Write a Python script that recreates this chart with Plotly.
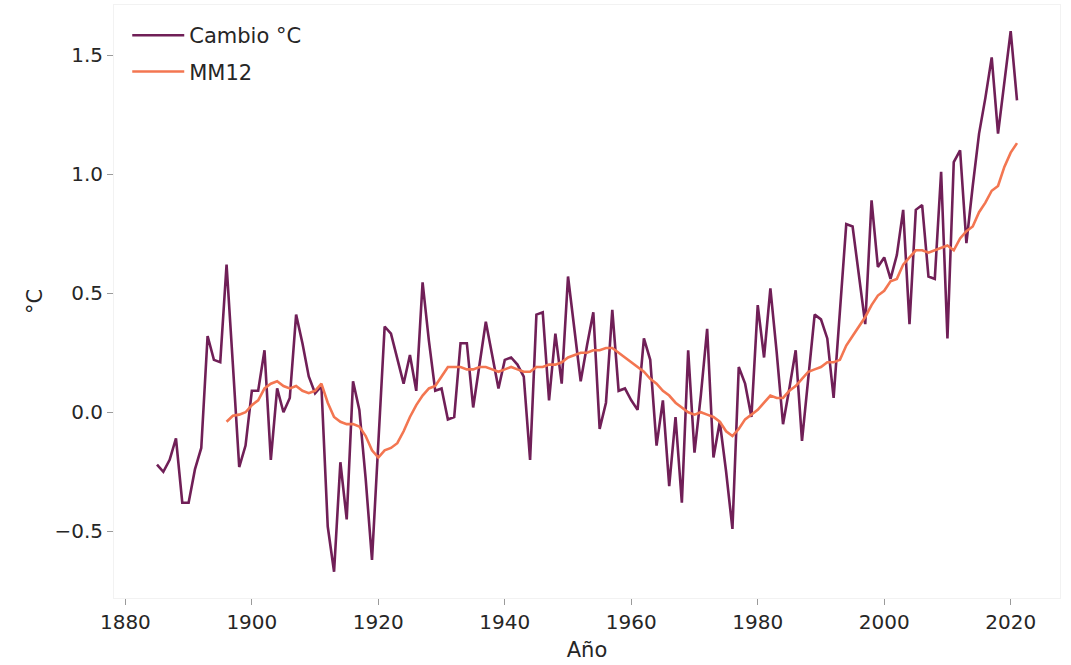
import plotly.graph_objects as go

# Datos anuales (lectura aproximada del gráfico)
anios = list(range(1885, 2022))
cambio = [
    -0.22, -0.25, -0.20, -0.11, -0.38, -0.38, -0.24, -0.15, 0.32, 0.22,   # 1885-1894
    0.21, 0.62, 0.20, -0.23, -0.14, 0.09, 0.09, 0.26, -0.20, 0.10,        # 1895-1904
    0.00, 0.06, 0.41, 0.29, 0.15, 0.08, 0.11, -0.48, -0.67, -0.21,        # 1905-1914
    -0.45, 0.13, 0.01, -0.28, -0.62, -0.15, 0.36, 0.33, 0.22, 0.12,       # 1915-1924
    0.24, 0.09, 0.545, 0.30, 0.09, 0.10, -0.03, -0.02, 0.29, 0.29,        # 1925-1934
    0.02, 0.20, 0.38, 0.24, 0.10, 0.22, 0.23, 0.20, 0.15, -0.20,          # 1935-1944
    0.41, 0.42, 0.05, 0.33, 0.12, 0.57, 0.36, 0.13, 0.28, 0.42,           # 1945-1954
    -0.07, 0.04, 0.43, 0.09, 0.10, 0.05, 0.01, 0.31, 0.22, -0.14,         # 1955-1964
    0.05, -0.31, -0.02, -0.38, 0.26, -0.17, 0.07, 0.35, -0.19, -0.04,     # 1965-1974
    -0.25, -0.49, 0.19, 0.12, -0.02, 0.45, 0.23, 0.52, 0.25, -0.05,       # 1975-1984
    0.10, 0.26, -0.12, 0.15, 0.41, 0.39, 0.31, 0.06, 0.43, 0.79,          # 1985-1994
    0.78, 0.58, 0.37, 0.89, 0.61, 0.65, 0.56, 0.66, 0.85, 0.37,           # 1995-2004
    0.85, 0.87, 0.57, 0.56, 1.01, 0.31, 1.05, 1.10, 0.71, 0.95,           # 2005-2014
    1.17, 1.32, 1.49, 1.17, 1.38, 1.60, 1.31,                             # 2015-2021
]

anios_mm = list(range(1896, 2022))
mm12 = [
    -0.04, -0.015, -0.01, 0.00, 0.03, 0.05, 0.10, 0.12, 0.13, 0.11,      # 1896-1905
    0.10, 0.11, 0.09, 0.08, 0.09, 0.12, 0.04, -0.02, -0.04, -0.05,       # 1906-1915
    -0.05, -0.06, -0.10, -0.16, -0.19, -0.16, -0.15, -0.13, -0.08, -0.02, # 1916-1925
    0.03, 0.07, 0.10, 0.11, 0.15, 0.19, 0.19, 0.19, 0.18, 0.18,          # 1926-1935
    0.19, 0.19, 0.18, 0.17, 0.18, 0.19, 0.18, 0.17, 0.17, 0.19,          # 1936-1945
    0.19, 0.20, 0.20, 0.21, 0.23, 0.24, 0.25, 0.25, 0.26, 0.26,          # 1946-1955
    0.27, 0.27, 0.25, 0.23, 0.21, 0.19, 0.17, 0.14, 0.12, 0.09,          # 1956-1965
    0.07, 0.04, 0.02, 0.00, -0.01, 0.00, -0.01, -0.02, -0.04, -0.08,     # 1966-1975
    -0.10, -0.07, -0.03, -0.01, 0.01, 0.04, 0.07, 0.06, 0.06, 0.09,      # 1976-1985
    0.11, 0.14, 0.17, 0.18, 0.19, 0.21, 0.21, 0.22, 0.28, 0.32,          # 1986-1995
    0.36, 0.40, 0.45, 0.49, 0.51, 0.55, 0.56, 0.62, 0.65, 0.68,          # 1996-2005
    0.68, 0.67, 0.68, 0.69, 0.70, 0.68, 0.73, 0.76, 0.78, 0.84,          # 2006-2015
    0.88, 0.93, 0.95, 1.03, 1.09, 1.13,                                  # 2016-2021
]

x_ticks = [1880, 1900, 1920, 1940, 1960, 1980, 2000, 2020]
y_ticks = [-0.5, 0.0, 0.5, 1.0, 1.5]
y_labels = ['\u22120.5', '0.0', '0.5', '1.0', '1.5']

fig = go.Figure()

fig.add_trace(go.Scatter(x=anios, y=cambio, mode='lines', name='Cambio °C', legendgroup='a',
                         line={'color': '#701f57', 'width': 2.6}))
fig.add_trace(go.Scatter(x=anios_mm, y=mm12, mode='lines', name='MM12', legendgroup='b',
                         line={'color': '#f37651', 'width': 2.6}))

fig.update_layout(
    width=1071, height=665,
    margin={'l': 114, 'r': 11, 't': 5, 'b': 67, 'autoexpand': False},
    paper_bgcolor='white', plot_bgcolor='white',
    font={'family': 'DejaVu Sans', 'size': 20, 'color': '#262626'},
    showlegend=True,
    legend={'x': 0.014, 'y': 0.983, 'xanchor': 'left', 'yanchor': 'top',
            'bgcolor': 'rgba(255,255,255,0)', 'font': {'size': 21},
            'itemwidth': 52, 'traceorder': 'grouped', 'tracegroupgap': 6},
    xaxis_title='Año',
    yaxis_title='°C',
)
fig.update_xaxes(range=[1878.2, 2027.8], tickvals=x_ticks, showgrid=False, zeroline=False,
                 ticks='outside', ticklen=6, tickwidth=1, tickcolor='#9a9a9a',
                 showline=True, linecolor='#f2f2f2', mirror=True,
                 title_font={'size': 21}, title_standoff=9)
fig.update_yaxes(range=[-0.78, 1.71], tickvals=y_ticks, ticktext=y_labels,
                 showgrid=False, zeroline=False,
                 ticks='outside', ticklen=6, tickwidth=1, tickcolor='#9a9a9a',
                 showline=True, linecolor='#f2f2f2', mirror=True,
                 title_font={'size': 21}, title_standoff=6)

# la página por defecto añade 8 px de margen al body
fig.write_html("out.html", config={'displayModeBar': False},
               post_script="document.body.style.margin='0';")
